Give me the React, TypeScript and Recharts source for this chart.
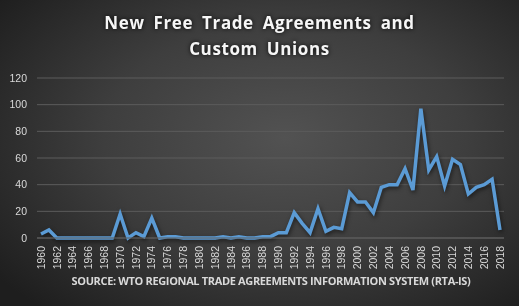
import React from 'react';
import { LineChart, Line, XAxis, YAxis, CartesianGrid } from 'recharts';

const YEARS: string[] = [
  '1960', '1961', '1962', '1963', '1964', '1965', '1966', '1967', '1968', '1969',
  '1970', '1971', '1972', '1973', '1974', '1975', '1976', '1977', '1978', '1979',
  '1980', '1981', '1982', '1983', '1984', '1985', '1986', '1987', '1988', '1989',
  '1990', '1991', '1992', '1993', '1994', '1995', '1996', '1997', '1998', '1999',
  '2000', '2001', '2002', '2003', '2004', '2005', '2006', '2007', '2008', '2009',
  '2010', '2011', '2012', '2013', '2014', '2015', '2016', '2017', '2018',
];

// new agreements entering into force per year
const AGREEMENTS: number[] = [
  3, 6, 0, 0, 0, 0, 0, 0, 0, 0,
  18, 0, 4, 1, 15, 0, 1, 1, 0, 0,
  0, 0, 0, 1, 0, 1, 0, 0, 1, 1,
  4, 4, 19, 11, 4, 22, 5, 8, 7, 34,
  27, 27, 19, 38, 40, 40, 52, 36, 97, 51,
  61, 39, 59, 55, 33, 38, 40, 44, 6,
];

const Y_TICKS = [0, 20, 40, 60, 80, 100, 120];

const data = YEARS.map((year, i) => ({ year, count: AGREEMENTS[i] }));

const TEXT = '#d9d9d9';
const GRID = '#5c5c5c';

const YearTick = (props: any) => {
  const { x, y, payload } = props;
  return (
    <g transform={`translate(${x},${y})`}>
      <text
        transform="rotate(-90)"
        textAnchor="end"
        dy="0.35em"
        fill={TEXT}
        fontSize={10.5}
        fontFamily="'Liberation Sans', Arial, sans-serif"
      >
        {payload.value}
      </text>
    </g>
  );
};

export default function App() {
  return (
    <div
      style={{
        position: 'fixed',
        left: 0,
        top: 0,
        width: 519,
        height: 306,
        overflow: 'hidden',
        background: 'radial-gradient(ellipse 70% 75% at 55% 45%, #525252 0%, #3e3e3e 50%, #1e1e1e 100%)',
      }}
    >
      <div
        style={{
          position: 'absolute',
          left: 0,
          top: 10,
          width: 519,
          textAlign: 'center',
          color: '#f6f6f6',
          fontFamily: "'Open Sans', sans-serif",
          fontWeight: 700,
          fontSize: 17,
          lineHeight: '26px',
          letterSpacing: 0.6,
          wordSpacing: 4,
          textShadow: '0 0 4px rgba(0,0,0,0.9)',
        }}
      >
        New Free Trade Agreements and
        <br />
        Custom Unions
      </div>

      <LineChart
        width={519}
        height={306}
        data={data}
        margin={{ top: 78, right: 15, left: 0, bottom: 0 }}
      >
        <CartesianGrid vertical={false} stroke={GRID} strokeWidth={1} />
        <XAxis
          dataKey="year"
          interval={1}
          height={68}
          padding={{ left: 4, right: 4 }}
          axisLine={{ stroke: GRID }}
          tickLine={false}
          tick={<YearTick />}
          tickMargin={2}
        />
        <YAxis
          width={37}
          domain={[0, 120]}
          ticks={Y_TICKS}
          axisLine={false}
          tickLine={false}
          tickMargin={4}
          tick={{ fill: TEXT, fontSize: 10.5, fontFamily: "'Liberation Sans', Arial, sans-serif" }}
        />
        <Line
          type="linear"
          dataKey="count"
          stroke="#5b9bd5"
          strokeWidth={3.5}
          dot={false}
          isAnimationActive={false}
          style={{ filter: 'drop-shadow(1px 2px 2px rgba(0,0,0,0.55))' }}
        />
      </LineChart>

      <div
        style={{
          position: 'absolute',
          left: 0,
          top: 273,
          width: 542,
          textAlign: 'center',
          color: TEXT,
          fontFamily: "'Open Sans', sans-serif",
          fontWeight: 700,
          fontSize: 11,
          letterSpacing: -0.35,
        }}
      >
        SOURCE: WTO REGIONAL TRADE AGREEMENTS INFORMATION SYSTEM (RTA-IS)
      </div>
    </div>
  );
}
